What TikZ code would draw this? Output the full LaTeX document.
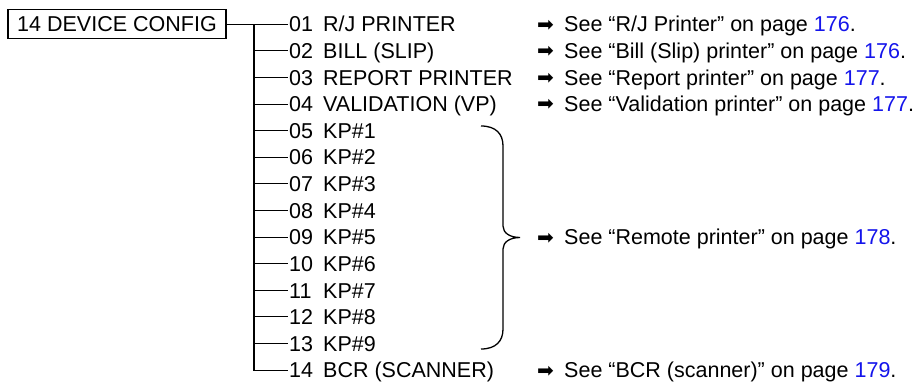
\documentclass[tikz,border=0pt]{standalone}
\usepackage{fontspec}
\setmainfont{Liberation Sans}
\newfontfamily\arrowsym{DejaVu Sans}
\definecolor{linkblue}{RGB}{20,20,235}
\newcommand{\pgref}[1]{\textcolor{linkblue}{#1}}
\newcommand{\seeref}[1]{\makebox[27pt][l]{\raisebox{0.8pt}{\arrowsym\fontsize{20}{20}\selectfont ➡}}See #1}
\newcommand{\itm}[2]{\makebox[34pt][l]{#1}#2}
\begin{document}
\begin{tikzpicture}[x=1pt,y=-1pt,
  txt/.style={inner xsep=1pt, inner ysep=0pt, text height=15.4pt, text depth=0pt, anchor=west, font=\fontsize{21.5}{21.5}\selectfont},
  box/.style={draw, line width=1.1pt, inner sep=0pt, minimum width=218pt, minimum height=29pt, text height=15.4pt, text depth=0pt, font=\fontsize{21.5}{21.5}\selectfont},
  tree/.style={line width=1.1pt},
  bracepath/.style={line width=1.3pt}]
\useasboundingbox (0,0) rectangle (915,382);
\def\ya{24.3}
\def\dy{26.6}
\node[box] (dc) at (117,\ya) {14 DEVICE CONFIG};
\node[txt] (r1) at (288,{\ya+0*\dy}) {\itm{01}{R/J PRINTER}};
\node[txt] (r2) at (288,{\ya+1*\dy}) {\itm{02}{BILL (SLIP)}};
\node[txt] (r3) at (288,{\ya+2*\dy}) {\itm{03}{REPORT PRINTER}};
\node[txt] (r4) at (288,{\ya+3*\dy}) {\itm{04}{VALIDATION (VP)}};
\node[txt] (r5) at (288,{\ya+4*\dy}) {\itm{05}{KP\#1}};
\node[txt] (r6) at (288,{\ya+5*\dy}) {\itm{06}{KP\#2}};
\node[txt] (r7) at (288,{\ya+6*\dy}) {\itm{07}{KP\#3}};
\node[txt] (r8) at (288,{\ya+7*\dy}) {\itm{08}{KP\#4}};
\node[txt] (r9) at (288,{\ya+8*\dy}) {\itm{09}{KP\#5}};
\node[txt] (r10) at (288,{\ya+9*\dy}) {\itm{10}{KP\#6}};
\node[txt] (r11) at (288,{\ya+10*\dy}) {\itm{11}{KP\#7}};
\node[txt] (r12) at (288,{\ya+11*\dy}) {\itm{12}{KP\#8}};
\node[txt] (r13) at (288,{\ya+12*\dy}) {\itm{13}{KP\#9}};
\node[txt] (r14) at (288,{\ya+13*\dy}) {\itm{14}{BCR (SCANNER)}};
\coordinate (j) at (254,\ya);
\draw[tree] (dc.east) -- (r1.west);
\draw[tree] (j) |- (r14.west);
\foreach \i in {2,...,13} {\draw[tree] (j |- r\i.west) -- (r\i.west);}
\node[txt] (s1) at (536,{\ya+0*\dy}) {\seeref{“R/J Printer” on page \pgref{176}.}};
\node[txt] (s2) at (536,{\ya+1*\dy}) {\seeref{“Bill (Slip) printer” on page \pgref{176}.}};
\node[txt] (s3) at (536,{\ya+2*\dy}) {\seeref{“Report printer” on page \pgref{177}.}};
\node[txt] (s4) at (536,{\ya+3*\dy}) {\seeref{“Validation printer” on page \pgref{177}.}};
\node[txt] (s9) at (536,{\ya+8*\dy}) {\seeref{“Remote printer” on page \pgref{178}.}};
\node[txt] (s14) at (536,{\ya+13*\dy}) {\seeref{“BCR (scanner)” on page \pgref{179}.}};
\draw[bracepath] (481,126) .. controls (496,126) and (503,134) .. (503,146) -- (503,226)
  .. controls (503,233) and (510,237.5) .. (520,237.5)
  .. controls (510,237.5) and (503,242) .. (503,249) -- (503,329)
  .. controls (503,341) and (496,349) .. (481,349);
\end{tikzpicture}
\end{document}
